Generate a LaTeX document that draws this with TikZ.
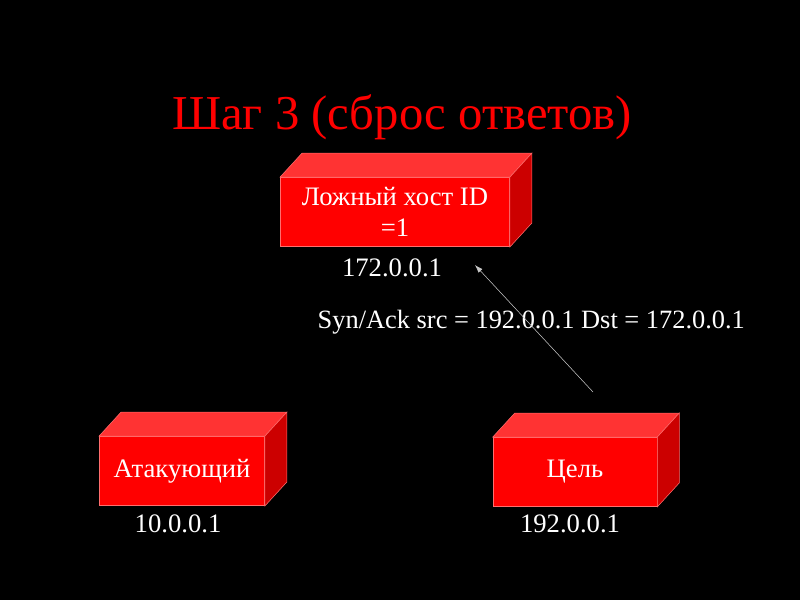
\documentclass[tikz,border=0pt]{standalone}
\usepackage{fontspec}
\setmainfont{Liberation Serif}
\usepackage{xcolor}
\usetikzlibrary{arrows.meta}

\definecolor{boxfront}{RGB}{255,0,0}
\definecolor{boxtop}{RGB}{255,51,51}
\definecolor{boxside}{RGB}{204,0,0}
\definecolor{boxedge}{RGB}{255,110,110}
\definecolor{msgline}{RGB}{200,200,200}

\begin{document}
\begin{tikzpicture}[x=0.75pt, y=-0.75pt,
    host/.style={rectangle, draw=boxedge, fill=boxfront, text=white, inner sep=0pt,
                 minimum height=52pt, align=center, font=\fontsize{20}{23}\selectfont},
    addr/.style={text=white, font=\fontsize{20}{23}\selectfont},
    topface/.style={fill=boxtop, draw=boxedge},
    sideface/.style={fill=boxside, draw=boxedge},
    msg/.style={-{Latex[length=6pt,width=4pt]}, draw=msgline, thin}
]
\fill[black] (0,0) rectangle (800,600);
\useasboundingbox (0,0) rectangle (800,600);

\node[text=red, font=\fontsize{36.5}{42}\selectfont] (title) at (402,117) {Шаг 3 (сброс ответов)};

\node[host, minimum width=172pt] (fake) at (395,212) {Ложный хост ID\\=1};
\node[host, minimum width=124pt] (atk) at (182,471) {Атакующий};
\node[host, minimum width=123pt] (tgt) at (575,472) {Цель};

% top and right faces of the boxes
\foreach \b in {fake, atk, tgt} {
  \filldraw[topface] (\b.north west) -- ++(22,-24) -- ([shift={(22,-24)}]\b.north east)
      -- (\b.north east) -- cycle;
  \filldraw[sideface] (\b.north east) -- ++(22,-24) -- ([shift={(22,-24)}]\b.south east)
      -- (\b.south east) -- cycle;
}

\node[addr] (fakeip) at (392,268) {172.0.0.1};
\node[addr] (atkip) at (178,524) {10.0.0.1};
\node[addr] (tgtip) at (570,524) {192.0.0.1};

\node[addr, anchor=west, font=\fontsize{19.8}{23}\selectfont] (ack) at (313,322) {Syn/Ack src = 192.0.0.1 Dst = 172.0.0.1};

\coordinate (ackfrom) at (593,392);
\coordinate (ackto) at (475,265);
\draw[msg] (ackfrom) -- (ackto);
\end{tikzpicture}
\end{document}
